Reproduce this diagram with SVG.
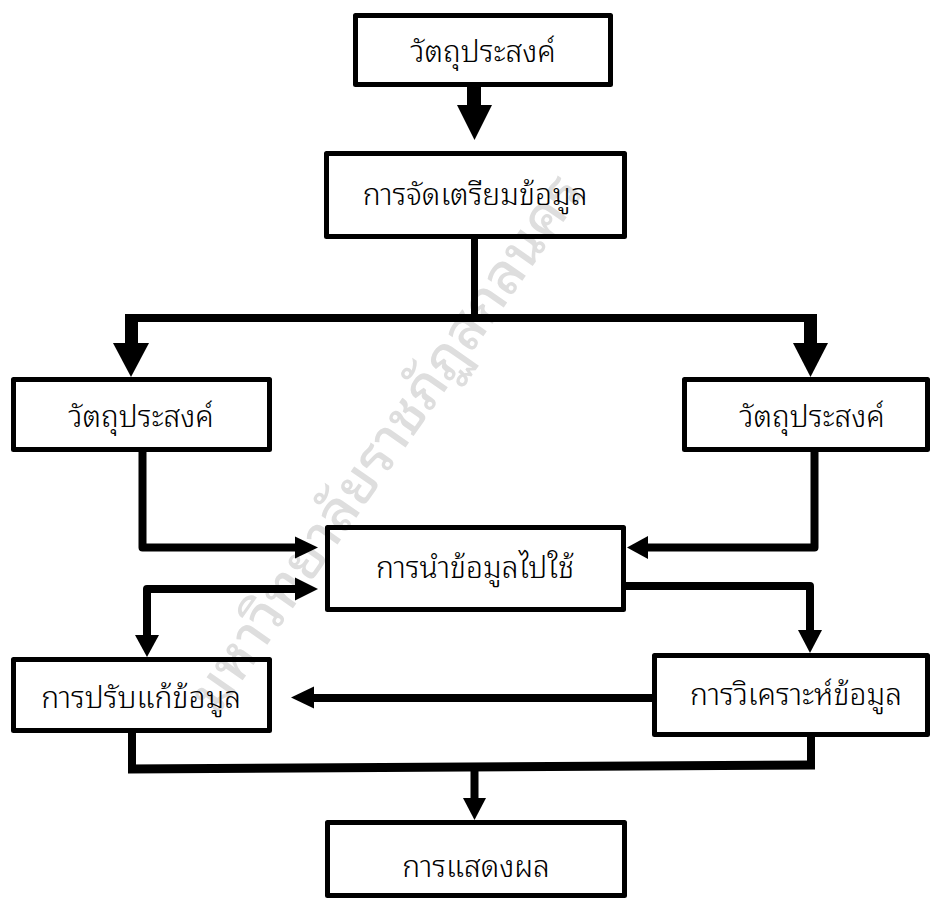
<svg xmlns="http://www.w3.org/2000/svg" width="932" height="904" viewBox="0 0 932 904">
  <style>
    .box { fill: none; stroke: #000; stroke-width: 5; stroke-linejoin: round; }
    .lbl { font-family: "Noto Sans Thai Looped", "Loma", "Garuda", "Tahoma", "Noto Sans Thai", "Noto Sans", sans-serif; font-size: 30px; font-weight: 300; fill: #000; text-anchor: middle; }
    .wire { fill: none; stroke: #000; stroke-width: 8; stroke-linejoin: round; }
    .head { fill: #000; stroke: none; }
    .mark { font-family: "Noto Sans Thai Looped", "Loma", "Noto Sans Thai", "Noto Sans", sans-serif; font-size: 56px; font-weight: 500; fill: #dedede; text-anchor: middle; }
  </style>
  <rect width="932" height="904" fill="#fff"/>

  <!-- diagonal watermark -->
  <text class="mark" transform="translate(385 442) rotate(-55)" x="0" y="20">มหาวิทยาลัยราชภัฏสกลนคร</text>

  <g id="connectors">
    <!-- objective to preparation -->
    <rect class="head" x="467" y="86" width="14" height="21"/>
    <path class="head" d="M457,105 L492,105 L474.5,140 Z"/>
    <!-- preparation trunk and split -->
    <path class="wire" d="M474.5,239 V318" style="stroke-width:7"/>
    <path class="wire" d="M127,318 H816"/>
    <rect class="head" x="125" y="314" width="13" height="31"/>
    <path class="head" d="M113,343 L149,343 L131,377 Z"/>
    <rect class="head" x="804" y="314" width="13" height="31"/>
    <path class="head" d="M793,343 L828,343 L810.5,377 Z"/>
    <!-- objectives to usage -->
    <path class="wire" d="M142.5,452 V547.5 H297"/>
    <path class="head" d="M295,536.5 L295,558.5 L318,547.5 Z"/>
    <path class="wire" d="M814.5,452 V547.5 H646"/>
    <path class="head" d="M648,536 L648,559 L627,547.5 Z"/>
    <!-- usage and adjustment -->
    <path class="wire" d="M147,636 V589 H297"/>
    <path class="head" d="M295,577.5 L295,600.5 L318,589 Z"/>
    <path class="head" d="M135,635 L159,635 L147,657 Z"/>
    <!-- usage to analysis -->
    <path class="wire" d="M626,586 H810 V632"/>
    <path class="head" d="M798,630 L822,630 L810,653 Z"/>
    <!-- analysis to adjustment -->
    <path class="wire" d="M652,698 H312"/>
    <path class="head" d="M314,686.5 L314,708.5 L291,697.5 Z"/>
    <!-- merge to result -->
    <path class="wire" d="M132,733 V769"/>
    <path class="wire" d="M811,737 V765"/>
    <path class="wire" d="M128,769 L815,765" style="stroke-width:9"/>
    <path class="wire" d="M474.5,767 V800"/>
    <path class="head" d="M463,798 L486,798 L474.5,820 Z"/>
  </g>

  <g id="objective">
    <rect class="box" x="355.5" y="15.5" width="255" height="69"/>
    <text class="lbl" x="483" y="62">วัตถุประสงค์</text>
  </g>
  <g id="preparation">
    <rect class="box" x="326.5" y="153.5" width="298" height="83"/>
    <text class="lbl" x="475" y="205">การจัดเตรียมข้อมูล</text>
  </g>
  <g id="objective-left">
    <rect class="box" x="13.5" y="379.5" width="256" height="70"/>
    <text class="lbl" x="141" y="427">วัตถุประสงค์</text>
  </g>
  <g id="objective-right">
    <rect class="box" x="684.5" y="379.5" width="243" height="70"/>
    <text class="lbl" x="812" y="427">วัตถุประสงค์</text>
  </g>
  <g id="usage">
    <rect class="box" x="327.5" y="527.5" width="296" height="82"/>
    <text class="lbl" x="475" y="578">การนำข้อมูลไปใช้</text>
  </g>
  <g id="adjustment">
    <rect class="box" x="13.5" y="659.5" width="256" height="71"/>
    <text class="lbl" x="141" y="708">การปรับแก้ข้อมูล</text>
  </g>
  <g id="analysis">
    <rect class="box" x="654.5" y="655.5" width="273" height="79"/>
    <text class="lbl" x="796" y="705">การวิเคราะห์ข้อมูล</text>
  </g>
  <g id="result">
    <rect class="box" x="327.5" y="822.5" width="297" height="73"/>
    <text class="lbl" x="476" y="877">การแสดงผล</text>
  </g>
</svg>
